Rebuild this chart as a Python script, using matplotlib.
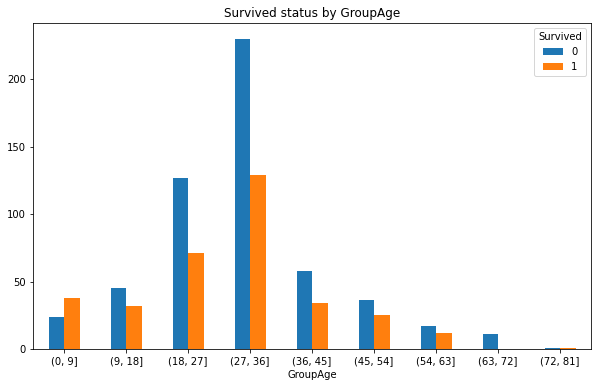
import matplotlib
matplotlib.use("Agg")
import matplotlib.pyplot as plt
import numpy as np

age_groups = ["(0, 9]", "(9, 18]", "(18, 27]", "(27, 36]", "(36, 45]",
              "(45, 54]", "(54, 63]", "(63, 72]", "(72, 81]"]
died = [24, 45, 127, 230, 58, 36, 17, 11, 1]
survived = [38, 32, 71, 129, 34, 25, 12, 0, 1]

W, H, DPI = 598, 387, 72
fig = plt.figure(figsize=(W / DPI, H / DPI), dpi=DPI)
ax = fig.add_axes([33 / W, (H - 349) / H, (591 - 33) / W, (349 - 23) / H])

x = np.arange(len(age_groups))
bw = 0.25
ax.bar(x - bw / 2, died, bw, color="#1f77b4", label="0")
ax.bar(x + bw / 2, survived, bw, color="#ff7f0e", label="1")

ax.set_xticks(x)
ax.set_xticklabels(age_groups, rotation=0)
ax.set_xlim(-0.5, len(age_groups) - 0.5)
ax.set_ylim(0, 241.5)
ax.set_yticks([0, 50, 100, 150, 200])
ax.set_xlabel("GroupAge")
ax.set_title("Survived status by GroupAge")
ax.legend(title="Survived", loc="upper right")

fig.savefig("out.png", dpi=DPI)
